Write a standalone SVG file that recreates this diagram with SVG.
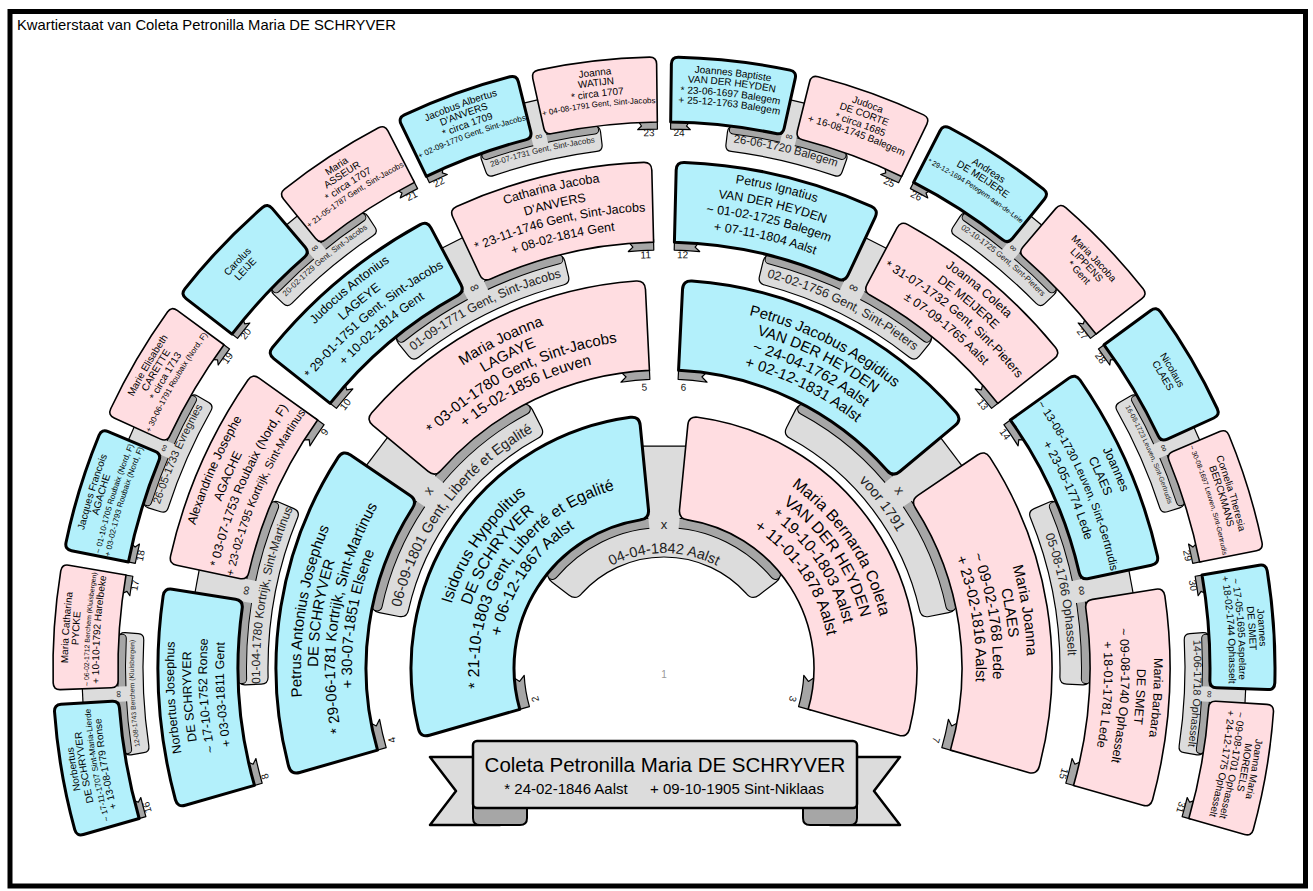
<svg xmlns="http://www.w3.org/2000/svg" width="1313" height="891" viewBox="0 0 1313 891">
<defs>
<style>
text{font-family:"Liberation Sans",Arial,sans-serif;fill:#000}
.c{text-anchor:middle}
.e{text-anchor:end}
.m{fill:#b3f0fb;stroke:#000;stroke-width:3;stroke-linejoin:round}
.f{fill:#ffdde1;stroke:#000;stroke-width:1.6;stroke-linejoin:round}
.tab{fill:#a6a6a6;stroke:#000;stroke-width:1.2;stroke-linejoin:round}
.band{fill:#dcdcdc;stroke:#000;stroke-width:1.2}
.con{fill:#dcdcdc}
.top{fill:none;stroke:#000;stroke-width:1.2}
.dko{fill:none;stroke:#000;stroke-linecap:round}
.dk{fill:none;stroke:#a6a6a6;stroke-linecap:round}
.bn{fill:#dcdcdc;stroke:#000;stroke-width:2.5;stroke-linejoin:round}
.g1{font-size:16px}
.g2{font-size:15px}
.g3{font-size:12.5px}
.g4{font-size:10px}
.num{font-size:10px;fill:#111}
.sym{font-size:13px;text-anchor:middle;fill:#222}
.bt{fill:#222;text-anchor:middle}
</style>
<path id="s1" d="M-115.24 -96.02L-187.46 -156.19Q-194.37 -161.95 -188.49 -168.76A253 253 0 0 1 188.49 -168.76Q194.37 -161.95 187.46 -156.19L122.16 -101.78Q115.24 -96.02 109.28 -102.75A150 150 0 0 0 -115.24 -96.02Z"/>
<path id="s2n" d="M-119.78 -272.87L-152.34 -347.04Q-155.96 -355.28 -147.68 -358.80A388 388 0 0 1 147.68 -358.80Q155.96 -355.28 152.34 -347.04L123.40 -281.11Q119.78 -272.87 111.49 -276.36A298 298 0 0 0 -119.78 -272.87Z"/>
<path id="s2e" d="M-126.41 -269.86L-160.77 -343.21Q-164.59 -351.36 -156.40 -355.09A388 388 0 0 1 156.40 -355.09Q164.59 -351.36 160.77 -343.21L130.23 -278.01Q126.41 -269.86 118.21 -273.56A298 298 0 0 0 -126.41 -269.86Z"/>
<path id="s3n" d="M-87.48 -416.92L-102.26 -487.39Q-103.91 -495.22 -96.06 -496.80A506 506 0 0 1 96.06 -496.80Q103.91 -495.22 102.26 -487.39L89.12 -424.75Q87.48 -416.92 79.64 -418.49A426 426 0 0 0 -87.48 -416.92Z"/>
<path id="s3e" d="M-92.57 -415.84L-108.22 -486.12Q-109.95 -493.93 -102.13 -495.62A506 506 0 0 1 102.13 -495.62Q109.95 -493.93 108.22 -486.12L94.31 -423.65Q92.57 -415.84 84.74 -417.50A426 426 0 0 0 -92.57 -415.84Z"/>
<path id="s4n" d="M-56.36 -543.08L-62.35 -600.77Q-63.07 -607.74 -56.11 -608.43A611 611 0 0 1 56.11 -608.43Q63.07 -607.74 62.35 -600.77L57.08 -550.05Q56.36 -543.08 49.39 -543.76A546 546 0 0 0 -56.36 -543.08Z"/>
<path id="s4e" d="M-59.68 -542.73L-66.02 -600.39Q-66.78 -607.35 -59.82 -608.10A611 611 0 0 1 59.82 -608.10Q66.78 -607.35 66.02 -600.39L60.44 -549.69Q59.68 -542.73 52.72 -543.47A546 546 0 0 0 -59.68 -542.73Z"/>
<path id="t1" d="M0 -153L0 -140A140 140 0 0 1 31.47 -136.42L26.92 -142.48L34.39 -149.08Z"/>
<path id="t2" d="M0 -301L0 -289A289 289 0 0 1 29.04 -287.54L23.61 -292.55L30.25 -299.48Z"/>
<path id="t3" d="M0 -429L0 -418A418 418 0 0 1 25.50 -417.22L20.80 -421.49L26.17 -428.20Z"/>
<path id="t4" d="M0 -549L0 -539A539 539 0 0 1 19.74 -538.64L15.90 -542.27L20.11 -548.63Z"/>
<path id="b1" d="M-82.30 -74.48Q-88.06 -67.57 -95.20 -73.05L-111.86 -85.84Q-119.00 -91.31 -113.31 -98.29A150 150 0 0 1 113.31 -98.29Q119.00 -91.31 111.86 -85.84L95.20 -73.05Q88.06 -67.57 82.30 -74.48A111 111 0 0 0 -82.30 -74.48Z"/>
<path id="b2" d="M-107.61 -238.88Q-114.85 -235.48 -118.36 -242.67L-127.13 -260.65Q-130.63 -267.84 -123.40 -271.26A298 298 0 0 1 123.40 -271.26Q130.63 -267.84 127.13 -260.65L118.36 -242.67Q114.85 -235.48 107.61 -238.88A262 262 0 0 0 -107.61 -238.88Z"/>
<path id="b3" d="M-80.89 -387.65Q-87.74 -386.20 -89.29 -393.03L-92.84 -408.63Q-94.39 -415.46 -87.54 -416.91A426 426 0 0 1 87.54 -416.91Q94.39 -415.46 92.84 -408.63L89.29 -393.03Q87.74 -386.20 80.89 -387.65A396 396 0 0 0 -80.89 -387.65Z"/>
<path id="b4" d="M-53.01 -518.30Q-58.98 -517.67 -59.66 -523.63L-61.13 -536.55Q-61.81 -542.51 -55.84 -543.14A546 546 0 0 1 55.84 -543.14Q61.81 -542.51 61.13 -536.55L59.66 -523.63Q58.98 -517.67 53.01 -518.30A521 521 0 0 0 -53.01 -518.30Z"/>
<path id="d1" d="M-111.46 -93.53A145.5 145.5 0 0 1 111.46 -93.53"/>
<path id="d2" d="M-123.12 -266.46A293.5 293.5 0 0 1 123.12 -266.46"/>
<path id="d3" d="M-87.74 -412.78A422 422 0 0 1 87.74 -412.78"/>
<path id="d4" d="M-55.77 -539.63A542.5 542.5 0 0 1 55.77 -539.63"/>
<path id="r222" d="M-218.63 -38.55A222 222 0 0 1 218.63 -38.55"/>
<path id="r203" d="M-199.92 -35.25A203 203 0 0 1 199.92 -35.25"/>
<path id="r185" d="M-182.19 -32.13A185 185 0 0 1 182.19 -32.13"/>
<path id="r166" d="M-163.48 -28.83A166 166 0 0 1 163.48 -28.83"/>
<path id="r115" d="M-113.25 -19.97A115 115 0 0 1 113.25 -19.97"/>
<path id="r363" d="M-357.49 -63.03A363 363 0 0 1 357.49 -63.03"/>
<path id="r346" d="M-340.74 -60.08A346 346 0 0 1 340.74 -60.08"/>
<path id="r329" d="M-324.00 -57.13A329 329 0 0 1 324.00 -57.13"/>
<path id="r312" d="M-307.26 -54.18A312 312 0 0 1 307.26 -54.18"/>
<path id="r270" d="M-265.90 -46.89A270 270 0 0 1 265.90 -46.89"/>
<path id="r490" d="M-482.56 -85.09A490 490 0 0 1 482.56 -85.09"/>
<path id="r473" d="M-465.81 -82.14A473 473 0 0 1 465.81 -82.14"/>
<path id="r457" d="M-450.06 -79.36A457 457 0 0 1 450.06 -79.36"/>
<path id="r440" d="M-433.32 -76.41A440 440 0 0 1 433.32 -76.41"/>
<path id="r404" d="M-397.86 -70.15A404 404 0 0 1 397.86 -70.15"/>
<path id="r596" d="M-586.95 -103.50A596 596 0 0 1 586.95 -103.50"/>
<path id="r586" d="M-577.10 -101.76A586 586 0 0 1 577.10 -101.76"/>
<path id="r575" d="M-566.27 -99.85A575 575 0 0 1 566.27 -99.85"/>
<path id="r565" d="M-556.42 -98.11A565 565 0 0 1 556.42 -98.11"/>
<path id="r591" d="M-582.02 -102.63A591 591 0 0 1 582.02 -102.63"/>
<path id="r581" d="M-572.17 -100.89A581 581 0 0 1 572.17 -100.89"/>
<path id="r570" d="M-561.34 -98.98A570 570 0 0 1 561.34 -98.98"/>
<path id="r530" d="M-521.95 -92.03A530 530 0 0 1 521.95 -92.03"/>
</defs>
<rect width="1313" height="891" fill="#fff"/>
<rect x="10" y="11.5" width="1295.5" height="874.5" fill="none" stroke="#000" stroke-width="5"/>
<text x="17" y="30" style="font-size:14.8px">Kwartierstaat van Coleta Petronilla Maria DE SCHRYVER</text>

<g id="connectors">
<g id="m2-3" transform="translate(664 668)">
<use href="#b1" class="band"/><use href="#d1" class="dko" style="stroke-width:11"/><use href="#d1" class="dk" style="stroke-width:9"/>
<path class="con" d="M-14.5 -138.3L-22.7 -221.9L22.7 -221.9L14.5 -138.3Z"/><path class="top" d="M-21.8 -221.9H21.8"/>
<text class="sym" y="-139.5">x</text>
<text class="bt" style="font-size:14.5px"><textPath href="#r115" startOffset="50%">04-04-1842 Aalst</textPath></text>
</g>
<g id="m4-5" transform="translate(664 668) rotate(-53)">
<use href="#b2" class="band"/><use href="#d2" class="dko" style="stroke-width:11"/><use href="#d2" class="dk" style="stroke-width:9"/>
<path class="con" d="M-15 -286.7L-18.6 -359.6L18.6 -359.6L15 -286.7Z"/><path class="top" d="M-17.6 -359.6H17.6"/>
<text class="sym" y="-290.5">x</text>
<text class="bt" style="font-size:14.5px"><textPath href="#r270" startOffset="50%">06-09-1801 Gent, Liberté et Egalité</textPath></text>
</g>
<g id="m6-7" transform="translate(664 668) rotate(53)">
<use href="#b2" class="band"/><use href="#d2" class="dko" style="stroke-width:11"/><use href="#d2" class="dk" style="stroke-width:9"/>
<path class="con" d="M-15 -286.7L-18.6 -359.6L18.6 -359.6L15 -286.7Z"/><path class="top" d="M-17.6 -359.6H17.6"/>
<text class="sym" y="-290.5">x</text>
<text class="bt" style="font-size:14.5px"><textPath href="#r270" startOffset="50%">voor 1791</textPath></text>
</g>
<g id="m8-9" transform="translate(664 668) rotate(-79.5)">
<use href="#b3" class="band"/><use href="#d3" class="dko" style="stroke-width:10"/><use href="#d3" class="dk" style="stroke-width:8"/>
<path class="con" d="M-11.2 -415.9L-12.6 -474.9L12.6 -474.9L11.2 -415.9Z"/><path class="top" d="M-11.6 -474.9H11.6"/>
<text class="sym" y="-421">∞</text>
<text class="bt" style="font-size:12px"><textPath href="#r404" startOffset="50%">01-04-1780 Kortrijk, Sint-Martinus</textPath></text>
</g>
<g id="m10-11" transform="translate(664 668) rotate(-26.5)">
<use href="#b3" class="band"/><use href="#d3" class="dko" style="stroke-width:10"/><use href="#d3" class="dk" style="stroke-width:8"/>
<path class="con" d="M-11.2 -415.9L-12.6 -474.9L12.6 -474.9L11.2 -415.9Z"/><path class="top" d="M-11.6 -474.9H11.6"/>
<text class="sym" y="-421">∞</text>
<text class="bt" style="font-size:12.5px"><textPath href="#r404" startOffset="50%">01-09-1771 Gent, Sint-Jacobs</textPath></text>
</g>
<g id="m12-13" transform="translate(664 668) rotate(26.5)">
<use href="#b3" class="band"/><use href="#d3" class="dko" style="stroke-width:10"/><use href="#d3" class="dk" style="stroke-width:8"/>
<path class="con" d="M-11.2 -415.9L-12.6 -474.9L12.6 -474.9L11.2 -415.9Z"/><path class="top" d="M-11.6 -474.9H11.6"/>
<text class="sym" y="-421">∞</text>
<text class="bt" style="font-size:12.5px"><textPath href="#r404" startOffset="50%">02-02-1756 Gent, Sint-Pieters</textPath></text>
</g>
<g id="m14-15" transform="translate(664 668) rotate(79.5)">
<use href="#b3" class="band"/><use href="#d3" class="dko" style="stroke-width:10"/><use href="#d3" class="dk" style="stroke-width:8"/>
<path class="con" d="M-11.2 -415.9L-12.6 -474.9L12.6 -474.9L11.2 -415.9Z"/><path class="top" d="M-11.6 -474.9H11.6"/>
<text class="sym" y="-421">∞</text>
<text class="bt" style="font-size:12.5px"><textPath href="#r404" startOffset="50%">05-08-1766 Ophasselt</textPath></text>
</g>
<g id="m16-17" transform="translate(664 668) rotate(-92.75)">
<use href="#b4" class="band"/><use href="#d4" class="dko" style="stroke-width:9"/><use href="#d4" class="dk" style="stroke-width:7"/>
<path class="con" d="M-7.5 -537L-8.1 -582L8.1 -582L7.5 -537Z"/><path class="top" d="M-7.1 -582H7.1"/>
<text class="sym" style="font-size:10px" y="-543">∞</text>
<text class="bt" style="font-size:6.85px"><textPath href="#r530" startOffset="50%">12-08-1743 Berchem (Kluisbergen)</textPath></text>
</g>
<g id="m18-19" transform="translate(664 668) rotate(-66.25)">
<use href="#b4" class="band"/><use href="#d4" class="dko" style="stroke-width:9"/><use href="#d4" class="dk" style="stroke-width:7"/>
<path class="con" d="M-7.5 -537L-8.1 -582L8.1 -582L7.5 -537Z"/><path class="top" d="M-7.1 -582H7.1"/>
<text class="sym" style="font-size:10px" y="-543">∞</text>
<text class="bt" style="font-size:10.9px"><textPath href="#r530" startOffset="50%">26-05-1733 Evregnies</textPath></text>
</g>
<g id="m20-21" transform="translate(664 668) rotate(-39.75)">
<use href="#b4" class="band"/><use href="#d4" class="dko" style="stroke-width:9"/><use href="#d4" class="dk" style="stroke-width:7"/>
<path class="con" d="M-7.5 -537L-8.1 -582L8.1 -582L7.5 -537Z"/><path class="top" d="M-7.1 -582H7.1"/>
<text class="sym" style="font-size:10px" y="-543">∞</text>
<text class="bt" style="font-size:8px"><textPath href="#r530" startOffset="50%">20-02-1729 Gent, Sint-Jacobs</textPath></text>
</g>
<g id="m22-23" transform="translate(664 668) rotate(-13.25)">
<use href="#b4" class="band"/><use href="#d4" class="dko" style="stroke-width:9"/><use href="#d4" class="dk" style="stroke-width:7"/>
<path class="con" d="M-7.5 -537L-8.1 -582L8.1 -582L7.5 -537Z"/><path class="top" d="M-7.1 -582H7.1"/>
<text class="sym" style="font-size:10px" y="-543">∞</text>
<text class="bt" style="font-size:8px"><textPath href="#r530" startOffset="50%">28-07-1731 Gent, Sint-Jacobs</textPath></text>
</g>
<g id="m24-25" transform="translate(664 668) rotate(13.25)">
<use href="#b4" class="band"/><use href="#d4" class="dko" style="stroke-width:9"/><use href="#d4" class="dk" style="stroke-width:7"/>
<path class="con" d="M-7.5 -537L-8.1 -582L8.1 -582L7.5 -537Z"/><path class="top" d="M-7.1 -582H7.1"/>
<text class="sym" style="font-size:10px" y="-543">∞</text>
<text class="bt" style="font-size:11.4px"><textPath href="#r530" startOffset="50%">26-06-1720 Balegem</textPath></text>
</g>
<g id="m26-27" transform="translate(664 668) rotate(39.75)">
<use href="#b4" class="band"/><use href="#d4" class="dko" style="stroke-width:9"/><use href="#d4" class="dk" style="stroke-width:7"/>
<path class="con" d="M-7.5 -537L-8.1 -582L8.1 -582L7.5 -537Z"/><path class="top" d="M-7.1 -582H7.1"/>
<text class="sym" style="font-size:10px" y="-543">∞</text>
<text class="bt" style="font-size:8px"><textPath href="#r530" startOffset="50%">02-10-1725 Gent, Sint-Pieters</textPath></text>
</g>
<g id="m28-29" transform="translate(664 668) rotate(66.25)">
<use href="#b4" class="band"/><use href="#d4" class="dko" style="stroke-width:9"/><use href="#d4" class="dk" style="stroke-width:7"/>
<path class="con" d="M-7.5 -537L-8.1 -582L8.1 -582L7.5 -537Z"/><path class="top" d="M-7.1 -582H7.1"/>
<text class="sym" style="font-size:10px" y="-543">∞</text>
<text class="bt" style="font-size:6.95px"><textPath href="#r530" startOffset="50%">16-08-1723 Leuven, Sint-Gertrudis</textPath></text>
</g>
<g id="m30-31" transform="translate(664 668) rotate(92.75)">
<use href="#b4" class="band"/><use href="#d4" class="dko" style="stroke-width:9"/><use href="#d4" class="dk" style="stroke-width:7"/>
<path class="con" d="M-7.5 -537L-8.1 -582L8.1 -582L7.5 -537Z"/><path class="top" d="M-7.1 -582H7.1"/>
<text class="sym" style="font-size:10px" y="-543">∞</text>
<text class="bt" style="font-size:10.8px"><textPath href="#r530" startOffset="50%">14-06-1718 Ophasselt</textPath></text>
</g>
</g>

<g id="nodes">
<g id="n2" transform="translate(664 668) rotate(-55.8)">
<use href="#t1" class="tab" transform="rotate(-50.2)"/><use href="#s1" class="m"/>
<text class="g1 c"><textPath href="#r222" startOffset="50%">Isidorus Hyppolitus</textPath></text>
<text class="g1 c"><textPath href="#r203" startOffset="50%">DE SCHRYVER</textPath></text>
<text class="g1 c"><textPath href="#r185" startOffset="50%">* 21-10-1803 Gent, Liberté et Egalité</textPath></text>
<text class="g1 c"><textPath href="#r166" startOffset="50%">+ 06-12-1867 Aalst</textPath></text>
<text class="num" transform="rotate(-50.2)" x="3" y="-129">2</text>
</g>
<g id="n3" transform="translate(664 668) rotate(55.8)">
<g transform="scale(-1 1)"><use href="#t1" class="tab" transform="rotate(-50.2)"/><use href="#s1" class="f"/></g>
<text class="g1 c"><textPath href="#r222" startOffset="50%">Maria Bernarda Coleta</textPath></text>
<text class="g1 c"><textPath href="#r203" startOffset="50%">VAN DER HEYDEN</textPath></text>
<text class="g1 c"><textPath href="#r185" startOffset="50%">* 19-10-1803 Aalst</textPath></text>
<text class="g1 c"><textPath href="#r166" startOffset="50%">+ 11-01-1878 Aalst</textPath></text>
<text class="num e" transform="rotate(50.2)" x="-3" y="-129">3</text>
</g>

<g id="n4" transform="translate(664 668) rotate(-80.9)">
<use href="#t2" class="tab" transform="rotate(-25.1)"/><use href="#s2e" class="m"/>
<text class="g2 c"><textPath href="#r363" startOffset="50%">Petrus Antonius Josephus</textPath></text>
<text class="g2 c"><textPath href="#r346" startOffset="50%">DE SCHRYVER</textPath></text>
<text class="g2 c"><textPath href="#r329" startOffset="50%">* 29-06-1781 Kortrijk, Sint-Martinus</textPath></text>
<text class="g2 c"><textPath href="#r312" startOffset="50%">+ 30-07-1851 Elsene</textPath></text>
<text class="num" transform="rotate(-25.1)" x="3" y="-278">4</text>
</g>
<g id="n5" transform="translate(664 668) rotate(-26.5)">
<g transform="scale(-1 1)"><use href="#t2" class="tab" transform="rotate(-23.7)"/><use href="#s2n" class="f"/></g>
<text class="g2 c"><textPath href="#r363" startOffset="50%">Maria Joanna</textPath></text>
<text class="g2 c"><textPath href="#r346" startOffset="50%">LAGAYE</textPath></text>
<text class="g2 c"><textPath href="#r329" startOffset="50%">* 03-01-1780 Gent, Sint-Jacobs</textPath></text>
<text class="g2 c"><textPath href="#r312" startOffset="50%">+ 15-02-1856 Leuven</textPath></text>
<text class="num e" transform="rotate(23.7)" x="-3" y="-278">5</text>
</g>
<g id="n6" transform="translate(664 668) rotate(26.5)">
<use href="#t2" class="tab" transform="rotate(-23.7)"/><use href="#s2n" class="m"/>
<text class="g2 c"><textPath href="#r363" startOffset="50%">Petrus Jacobus Aegidius</textPath></text>
<text class="g2 c"><textPath href="#r346" startOffset="50%">VAN DER HEYDEN</textPath></text>
<text class="g2 c"><textPath href="#r329" startOffset="50%">~ 24-04-1762 Aalst</textPath></text>
<text class="g2 c"><textPath href="#r312" startOffset="50%">+ 02-12-1831 Aalst</textPath></text>
<text class="num" transform="rotate(-23.7)" x="3" y="-278">6</text>
</g>
<g id="n7" transform="translate(664 668) rotate(80.9)">
<g transform="scale(-1 1)"><use href="#t2" class="tab" transform="rotate(-25.1)"/><use href="#s2e" class="f"/></g>
<text class="g2 c"><textPath href="#r363" startOffset="50%">Maria Joanna</textPath></text>
<text class="g2 c"><textPath href="#r346" startOffset="50%">CLAES</textPath></text>
<text class="g2 c"><textPath href="#r329" startOffset="50%">~ 09-02-1768 Lede</textPath></text>
<text class="g2 c"><textPath href="#r312" startOffset="50%">+ 23-02-1816 Aalst</textPath></text>
<text class="num e" transform="rotate(25.1)" x="-3" y="-278">7</text>
</g>

<g id="n8" transform="translate(664 668) rotate(-93.45)">
<use href="#t3" class="tab" transform="rotate(-12.55)"/><use href="#s3e" class="m"/>
<text class="g3 c"><textPath href="#r490" startOffset="50%">Norbertus Josephus</textPath></text>
<text class="g3 c"><textPath href="#r473" startOffset="50%">DE SCHRYVER</textPath></text>
<text class="g3 c"><textPath href="#r457" startOffset="50%">~ 17-10-1752 Ronse</textPath></text>
<text class="g3 c"><textPath href="#r440" startOffset="50%">+ 03-03-1811 Gent</textPath></text>
<text class="num" transform="rotate(-12.55)" x="3" y="-410">8</text>
</g>
<g id="n9" transform="translate(664 668) rotate(-66.25)">
<g transform="scale(-1 1)"><use href="#t3" class="tab" transform="rotate(-11.85)"/><use href="#s3n" class="f"/></g>
<text class="g3 c"><textPath href="#r490" startOffset="50%">Alexandrine Josephe</textPath></text>
<text class="g3 c"><textPath href="#r473" startOffset="50%">AGACHE</textPath></text>
<text class="g3 c"><textPath href="#r457" startOffset="50%">* 03-07-1753 Roubaix (Nord, F)</textPath></text>
<text class="g3 c" style="font-size:11.4px"><textPath href="#r440" startOffset="50%">+ 23-02-1795 Kortrijk, Sint-Martinus</textPath></text>
<text class="num e" transform="rotate(11.85)" x="-3" y="-410">9</text>
</g>
<g id="n10" transform="translate(664 668) rotate(-39.75)">
<use href="#t3" class="tab" transform="rotate(-11.85)"/><use href="#s3n" class="m"/>
<text class="g3 c"><textPath href="#r490" startOffset="50%">Judocus Antonius</textPath></text>
<text class="g3 c"><textPath href="#r473" startOffset="50%">LAGEYE</textPath></text>
<text class="g3 c"><textPath href="#r457" startOffset="50%">* 29-01-1751 Gent, Sint-Jacobs</textPath></text>
<text class="g3 c"><textPath href="#r440" startOffset="50%">+ 10-02-1814 Gent</textPath></text>
<text class="num" transform="rotate(-11.85)" x="3" y="-410">10</text>
</g>
<g id="n11" transform="translate(664 668) rotate(-13.25)">
<g transform="scale(-1 1)"><use href="#t3" class="tab" transform="rotate(-11.85)"/><use href="#s3n" class="f"/></g>
<text class="g3 c"><textPath href="#r490" startOffset="50%">Catharina Jacoba</textPath></text>
<text class="g3 c"><textPath href="#r473" startOffset="50%">D'ANVERS</textPath></text>
<text class="g3 c"><textPath href="#r457" startOffset="50%">* 23-11-1746 Gent, Sint-Jacobs</textPath></text>
<text class="g3 c"><textPath href="#r440" startOffset="50%">+ 08-02-1814 Gent</textPath></text>
<text class="num e" transform="rotate(11.85)" x="-3" y="-410">11</text>
</g>
<g id="n12" transform="translate(664 668) rotate(13.25)">
<use href="#t3" class="tab" transform="rotate(-11.85)"/><use href="#s3n" class="m"/>
<text class="g3 c"><textPath href="#r490" startOffset="50%">Petrus Ignatius</textPath></text>
<text class="g3 c"><textPath href="#r473" startOffset="50%">VAN DER HEYDEN</textPath></text>
<text class="g3 c"><textPath href="#r457" startOffset="50%">~ 01-02-1725 Balegem</textPath></text>
<text class="g3 c"><textPath href="#r440" startOffset="50%">+ 07-11-1804 Aalst</textPath></text>
<text class="num" transform="rotate(-11.85)" x="3" y="-410">12</text>
</g>
<g id="n13" transform="translate(664 668) rotate(39.75)">
<g transform="scale(-1 1)"><use href="#t3" class="tab" transform="rotate(-11.85)"/><use href="#s3n" class="f"/></g>
<text class="g3 c"><textPath href="#r490" startOffset="50%">Joanna Coleta</textPath></text>
<text class="g3 c"><textPath href="#r473" startOffset="50%">DE MEIJERE</textPath></text>
<text class="g3 c"><textPath href="#r457" startOffset="50%">* 31-07-1732 Gent, Sint-Pieters</textPath></text>
<text class="g3 c"><textPath href="#r440" startOffset="50%">± 07-09-1765 Aalst</textPath></text>
<text class="num e" transform="rotate(11.85)" x="-3" y="-410">13</text>
</g>
<g id="n14" transform="translate(664 668) rotate(66.25)">
<use href="#t3" class="tab" transform="rotate(-11.85)"/><use href="#s3n" class="m"/>
<text class="g3 c"><textPath href="#r490" startOffset="50%">Joannes</textPath></text>
<text class="g3 c"><textPath href="#r473" startOffset="50%">CLAES</textPath></text>
<text class="g3 c" style="font-size:11.3px"><textPath href="#r457" startOffset="50%">~ 13-08-1730 Leuven, Sint-Gertrudis</textPath></text>
<text class="g3 c"><textPath href="#r440" startOffset="50%">+ 23-05-1774 Lede</textPath></text>
<text class="num" transform="rotate(-11.85)" x="3" y="-410">14</text>
</g>
<g id="n15" transform="translate(664 668) rotate(93.45)">
<g transform="scale(-1 1)"><use href="#t3" class="tab" transform="rotate(-12.55)"/><use href="#s3e" class="f"/></g>
<text class="g3 c"><textPath href="#r490" startOffset="50%">Maria Barbara</textPath></text>
<text class="g3 c"><textPath href="#r473" startOffset="50%">DE SMET</textPath></text>
<text class="g3 c"><textPath href="#r457" startOffset="50%">~ 09-08-1740 Ophasselt</textPath></text>
<text class="g3 c"><textPath href="#r440" startOffset="50%">+ 18-01-1781 Lede</textPath></text>
<text class="num e" transform="rotate(12.55)" x="-3" y="-410">15</text>
</g>

<g id="n16" transform="translate(664 668) rotate(-99.725)">
<use href="#t4" class="tab" transform="rotate(-6.275)"/><use href="#s4e" class="m"/>
<text class="g4 c"><textPath href="#r596" startOffset="50%">Norbertus</textPath></text>
<text class="g4 c"><textPath href="#r586" startOffset="50%">DE SCHRYVER</textPath></text>
<text class="g4 c" style="font-size:8.2px"><textPath href="#r575" startOffset="50%">~ 17-11-1707 Sint-Maria-Lierde</textPath></text>
<text class="g4 c"><textPath href="#r565" startOffset="50%">+ 13-08-1779 Ronse</textPath></text>
<text class="num" transform="rotate(-6.275)" x="3" y="-532">16</text>
</g>
<g id="n17" transform="translate(664 668) rotate(-86.125)">
<g transform="scale(-1 1)"><use href="#t4" class="tab" transform="rotate(-5.925)"/><use href="#s4n" class="f"/></g>
<text class="g4 c"><textPath href="#r596" startOffset="50%">Maria Catharina</textPath></text>
<text class="g4 c"><textPath href="#r586" startOffset="50%">PYCKE</textPath></text>
<text class="g4 c" style="font-size:6.9px"><textPath href="#r575" startOffset="50%">~ 06-02-1712 Berchem (Kluisbergen)</textPath></text>
<text class="g4 c"><textPath href="#r565" startOffset="50%">+ 10-10-1792 Harelbeke</textPath></text>
<text class="num e" transform="rotate(5.925)" x="-3" y="-532">17</text>
</g>
<g id="n18" transform="translate(664 668) rotate(-72.875)">
<use href="#t4" class="tab" transform="rotate(-5.925)"/><use href="#s4n" class="m"/>
<text class="g4 c"><textPath href="#r596" startOffset="50%">Jacques Francois</textPath></text>
<text class="g4 c"><textPath href="#r586" startOffset="50%">AGACHE</textPath></text>
<text class="g4 c" style="font-size:8px"><textPath href="#r575" startOffset="50%">~ 01-10-1705 Roubaix (Nord, F)</textPath></text>
<text class="g4 c" style="font-size:8px"><textPath href="#r565" startOffset="50%">+ 03-02-1793 Roubaix (Nord, F)</textPath></text>
<text class="num" transform="rotate(-5.925)" x="3" y="-532">18</text>
</g>
<g id="n19" transform="translate(664 668) rotate(-59.625)">
<g transform="scale(-1 1)"><use href="#t4" class="tab" transform="rotate(-5.925)"/><use href="#s4n" class="f"/></g>
<text class="g4 c"><textPath href="#r596" startOffset="50%">Marie Elisabeth</textPath></text>
<text class="g4 c"><textPath href="#r586" startOffset="50%">CARETTE</textPath></text>
<text class="g4 c"><textPath href="#r575" startOffset="50%">* circa 1713</textPath></text>
<text class="g4 c" style="font-size:8px"><textPath href="#r565" startOffset="50%">+ 30-06-1791 Roubaix (Nord, F)</textPath></text>
<text class="num e" transform="rotate(5.925)" x="-3" y="-532">19</text>
</g>
<g id="n20" transform="translate(664 668) rotate(-46.375)">
<use href="#t4" class="tab" transform="rotate(-5.925)"/><use href="#s4n" class="m"/>
<text class="g4 c"><textPath href="#r586" startOffset="50%">Carolus</textPath></text>
<text class="g4 c"><textPath href="#r575" startOffset="50%">LEIJE</textPath></text>
<text class="num" transform="rotate(-5.925)" x="3" y="-532">20</text>
</g>
<g id="n21" transform="translate(664 668) rotate(-33.125)">
<g transform="scale(-1 1)"><use href="#t4" class="tab" transform="rotate(-5.925)"/><use href="#s4n" class="f"/></g>
<text class="g4 c"><textPath href="#r596" startOffset="50%">Maria</textPath></text>
<text class="g4 c"><textPath href="#r586" startOffset="50%">ASSEUR</textPath></text>
<text class="g4 c"><textPath href="#r575" startOffset="50%">* circa 1707</textPath></text>
<text class="g4 c" style="font-size:8px"><textPath href="#r565" startOffset="50%">+ 21-05-1787 Gent, Sint-Jacobs</textPath></text>
<text class="num e" transform="rotate(5.925)" x="-3" y="-532">21</text>
</g>
<g id="n22" transform="translate(664 668) rotate(-19.875)">
<use href="#t4" class="tab" transform="rotate(-5.925)"/><use href="#s4n" class="m"/>
<text class="g4 c"><textPath href="#r596" startOffset="50%">Jacobus Albertus</textPath></text>
<text class="g4 c"><textPath href="#r586" startOffset="50%">D'ANVERS</textPath></text>
<text class="g4 c"><textPath href="#r575" startOffset="50%">* circa 1709</textPath></text>
<text class="g4 c" style="font-size:8px"><textPath href="#r565" startOffset="50%">+ 02-09-1770 Gent, Sint-Jacobs</textPath></text>
<text class="num" transform="rotate(-5.925)" x="3" y="-532">22</text>
</g>
<g id="n23" transform="translate(664 668) rotate(-6.625)">
<g transform="scale(-1 1)"><use href="#t4" class="tab" transform="rotate(-5.925)"/><use href="#s4n" class="f"/></g>
<text class="g4 c"><textPath href="#r596" startOffset="50%">Joanna</textPath></text>
<text class="g4 c"><textPath href="#r586" startOffset="50%">WATIJN</textPath></text>
<text class="g4 c"><textPath href="#r575" startOffset="50%">* circa 1707</textPath></text>
<text class="g4 c" style="font-size:8px"><textPath href="#r565" startOffset="50%">+ 04-08-1791 Gent, Sint-Jacobs</textPath></text>
<text class="num e" transform="rotate(5.925)" x="-3" y="-532">23</text>
</g>
<g id="n24" transform="translate(664 668) rotate(6.625)">
<use href="#t4" class="tab" transform="rotate(-5.925)"/><use href="#s4n" class="m"/>
<text class="g4 c"><textPath href="#r596" startOffset="50%">Joannes Baptiste</textPath></text>
<text class="g4 c"><textPath href="#r586" startOffset="50%">VAN DER HEYDEN</textPath></text>
<text class="g4 c"><textPath href="#r575" startOffset="50%">* 23-06-1697 Balegem</textPath></text>
<text class="g4 c"><textPath href="#r565" startOffset="50%">+ 25-12-1763 Balegem</textPath></text>
<text class="num" transform="rotate(-5.925)" x="3" y="-532">24</text>
</g>
<g id="n25" transform="translate(664 668) rotate(19.875)">
<g transform="scale(-1 1)"><use href="#t4" class="tab" transform="rotate(-5.925)"/><use href="#s4n" class="f"/></g>
<text class="g4 c"><textPath href="#r596" startOffset="50%">Judoca</textPath></text>
<text class="g4 c"><textPath href="#r586" startOffset="50%">DE CORTE</textPath></text>
<text class="g4 c"><textPath href="#r575" startOffset="50%">* circa 1685</textPath></text>
<text class="g4 c"><textPath href="#r565" startOffset="50%">+ 16-08-1745 Balegem</textPath></text>
<text class="num e" transform="rotate(5.925)" x="-3" y="-532">25</text>
</g>
<g id="n26" transform="translate(664 668) rotate(33.125)">
<use href="#t4" class="tab" transform="rotate(-5.925)"/><use href="#s4n" class="m"/>
<text class="g4 c"><textPath href="#r591" startOffset="50%">Andreas</textPath></text>
<text class="g4 c"><textPath href="#r581" startOffset="50%">DE MEIJERE</textPath></text>
<text class="g4 c" style="font-size:7.1px"><textPath href="#r570" startOffset="50%">* 29-12-1694 Petegem-aan-de-Leie</textPath></text>
<text class="num" transform="rotate(-5.925)" x="3" y="-532">26</text>
</g>
<g id="n27" transform="translate(664 668) rotate(46.375)">
<g transform="scale(-1 1)"><use href="#t4" class="tab" transform="rotate(-5.925)"/><use href="#s4n" class="f"/></g>
<text class="g4 c"><textPath href="#r591" startOffset="50%">Maria Jacoba</textPath></text>
<text class="g4 c"><textPath href="#r581" startOffset="50%">LIPPENS</textPath></text>
<text class="g4 c"><textPath href="#r570" startOffset="50%">* Gent</textPath></text>
<text class="num e" transform="rotate(5.925)" x="-3" y="-532">27</text>
</g>
<g id="n28" transform="translate(664 668) rotate(59.625)">
<use href="#t4" class="tab" transform="rotate(-5.925)"/><use href="#s4n" class="m"/>
<text class="g4 c"><textPath href="#r586" startOffset="50%">Nicolaus</textPath></text>
<text class="g4 c"><textPath href="#r575" startOffset="50%">CLAES</textPath></text>
<text class="num" transform="rotate(-5.925)" x="3" y="-532">28</text>
</g>
<g id="n29" transform="translate(664 668) rotate(72.875)">
<g transform="scale(-1 1)"><use href="#t4" class="tab" transform="rotate(-5.925)"/><use href="#s4n" class="f"/></g>
<text class="g4 c"><textPath href="#r591" startOffset="50%">Cornelia Theresia</textPath></text>
<text class="g4 c"><textPath href="#r581" startOffset="50%">BERCKMANS</textPath></text>
<text class="g4 c" style="font-size:7px"><textPath href="#r570" startOffset="50%">~ 30-08-1697 Leuven, Sint-Gertrudis</textPath></text>
<text class="num e" transform="rotate(5.925)" x="-3" y="-532">29</text>
</g>
<g id="n30" transform="translate(664 668) rotate(86.125)">
<use href="#t4" class="tab" transform="rotate(-5.925)"/><use href="#s4n" class="m"/>
<text class="g4 c"><textPath href="#r596" startOffset="50%">Joannes</textPath></text>
<text class="g4 c"><textPath href="#r586" startOffset="50%">DE SMET</textPath></text>
<text class="g4 c"><textPath href="#r575" startOffset="50%">~ 17-05-1695 Aspelare</textPath></text>
<text class="g4 c"><textPath href="#r565" startOffset="50%">+ 18-02-1744 Ophasselt</textPath></text>
<text class="num" transform="rotate(-5.925)" x="3" y="-532">30</text>
</g>
<g id="n31" transform="translate(664 668) rotate(99.725)">
<g transform="scale(-1 1)"><use href="#t4" class="tab" transform="rotate(-6.275)"/><use href="#s4e" class="f"/></g>
<text class="g4 c"><textPath href="#r596" startOffset="50%">Joanna Maria</textPath></text>
<text class="g4 c"><textPath href="#r586" startOffset="50%">MOREELS</textPath></text>
<text class="g4 c"><textPath href="#r575" startOffset="50%">~ 09-08-1701 Ophasselt</textPath></text>
<text class="g4 c"><textPath href="#r565" startOffset="50%">+ 24-12-1775 Ophasselt</textPath></text>
<text class="num e" transform="rotate(6.275)" x="-3" y="-532">31</text>
</g>
</g>

<g id="n1">
<path class="bn" d="M430 757H500V825H430L456 791Z"/>
<path class="bn" d="M900 757H830V825H900L874 791Z"/>
<path d="M473 800H527V818Q527 825 520 825H480Q473 825 473 818Z" fill="#a6a6a6" stroke="#000" stroke-width="2"/>
<path d="M803 800H857V818Q857 825 850 825H810Q803 825 803 818Z" fill="#a6a6a6" stroke="#000" stroke-width="2"/>
<rect class="bn" x="473" y="741" width="384" height="67" rx="4"/>
<text class="c" x="665" y="772" style="font-size:20.5px">Coleta Petronilla Maria DE SCHRYVER</text>
<text class="c" x="566" y="794" style="font-size:15px">* 24-02-1846 Aalst</text>
<text class="c" x="737" y="794" style="font-size:15px">+ 09-10-1905 Sint-Niklaas</text>
<text class="c" x="664" y="678" style="font-size:10px;fill:#999">1</text>
</g>
</svg>
